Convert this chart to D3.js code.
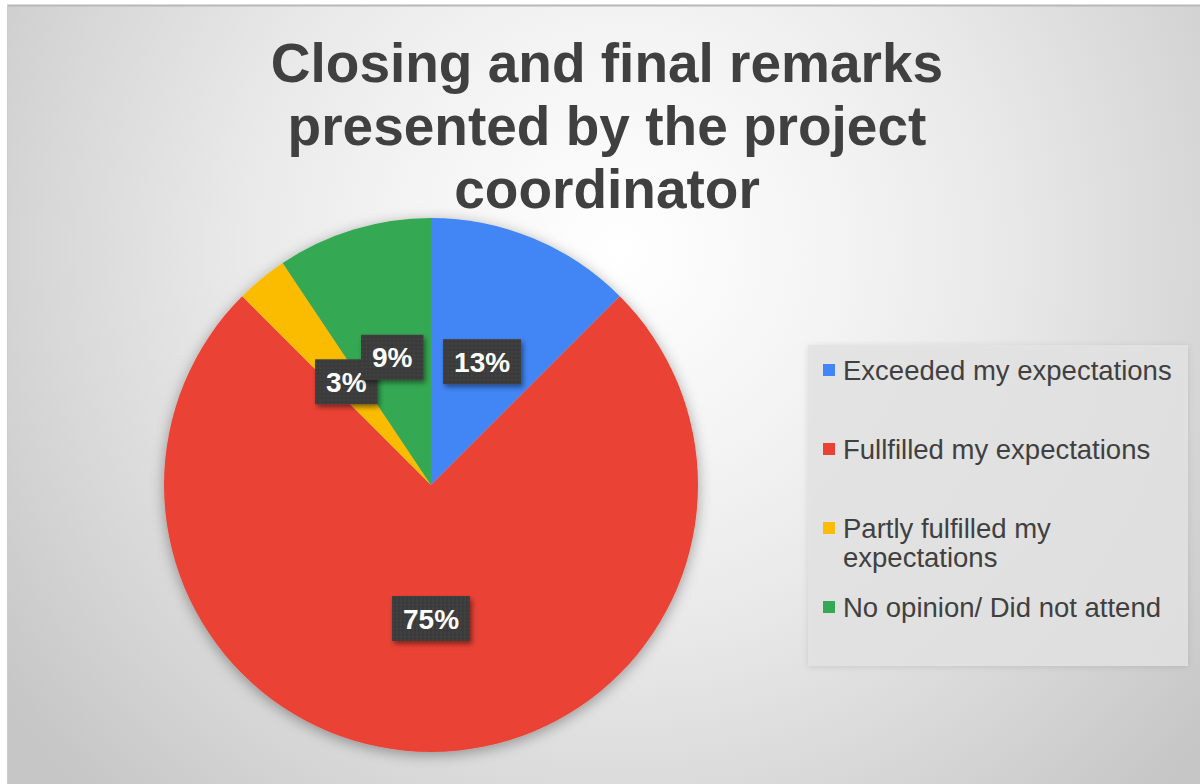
<!DOCTYPE html>
<html>
<head>
<meta charset="utf-8">
<script src="https://cdn.jsdelivr.net/npm/d3@7"></script>
<style>
  html, body { margin: 0; padding: 0; background: #ffffff; }
  svg { display: block; }
</style>
</head>
<body>
<svg id="chart" width="1200" height="784"></svg>
<script>
// ---- data ----
const titleLines = ["Closing and final remarks", "presented by the project", "coordinator"];
const categories = [
  "Exceeded my expectations",
  "Fullfilled my expectations",
  "Partly fulfilled my expectations",
  "No opinion/ Did not attend"
];
const values = [4, 24, 1, 3];
const colors = ["#4285F4", "#EA4335", "#FBBC04", "#34A853"];

// ---- setup ----
const W = 1200, H = 784;
const svg = d3.select("#chart");
const defs = svg.append("defs");

const bg = defs.append("radialGradient").attr("id", "bgGrad")
  .attr("gradientUnits", "userSpaceOnUse")
  .attr("cx", 620).attr("cy", 250).attr("r", 760);
[[0, "#ffffff"], [0.3, "#f3f3f3"], [0.5, "#e9e9e9"], [0.75, "#d8d8d8"], [1, "#c6c6c6"]]
  .forEach(([o, c]) => bg.append("stop").attr("offset", o).attr("stop-color", c));

const pieShadow = defs.append("filter").attr("id", "pieShadow")
  .attr("x", "-20%").attr("y", "-20%").attr("width", "140%").attr("height", "140%");
pieShadow.append("feDropShadow").attr("dx", 0).attr("dy", 3).attr("stdDeviation", 7)
  .attr("flood-color", "#000").attr("flood-opacity", 0.35);

const lblShadow = defs.append("filter").attr("id", "lblShadow")
  .attr("x", "-30%").attr("y", "-30%").attr("width", "160%").attr("height", "160%");
lblShadow.append("feDropShadow").attr("dx", 2).attr("dy", 3).attr("stdDeviation", 2.5)
  .attr("flood-color", "#000").attr("flood-opacity", 0.45);

const legShadow = defs.append("filter").attr("id", "legShadow")
  .attr("x", "-10%").attr("y", "-10%").attr("width", "120%").attr("height", "120%");
legShadow.append("feDropShadow").attr("dx", 0).attr("dy", 1).attr("stdDeviation", 3)
  .attr("flood-color", "#000").attr("flood-opacity", 0.12);

const pat = defs.append("pattern").attr("id", "dots")
  .attr("patternUnits", "userSpaceOnUse").attr("width", 4).attr("height", 4);
pat.append("rect").attr("width", 4).attr("height", 4).attr("fill", "#3b3b3b");
pat.append("circle").attr("cx", 2).attr("cy", 2).attr("r", 0.8).attr("fill", "#4c4c4c");

// background / chart area
svg.append("rect").attr("x", 7).attr("y", 5).attr("width", W - 7).attr("height", H - 5)
  .attr("fill", "url(#bgGrad)");
svg.append("line").attr("x1", 7).attr("x2", W).attr("y1", 5.5).attr("y2", 5.5)
  .attr("stroke", "#b8b8b8").attr("stroke-width", 2);
svg.append("line").attr("x1", 7.5).attr("x2", 7.5).attr("y1", 5).attr("y2", H)
  .attr("stroke", "#cfcfcf").attr("stroke-width", 1);

// title
svg.append("text")
  .attr("x", 607).attr("y", 82)
  .attr("text-anchor", "middle")
  .attr("font-family", "'Liberation Sans', Arial, sans-serif")
  .attr("font-weight", "bold").attr("font-size", 55)
  .attr("fill", "#404040")
  .selectAll("tspan").data(titleLines).join("tspan")
  .attr("x", 607).attr("dy", (d, i) => i === 0 ? 0 : 63)
  .text(d => d);

// pie
const cx = 431, cy = 485, R = 267;
const total = d3.sum(values);
const pie = d3.pie().sort(null).value(d => d.v);
const arcs = pie(values.map((v, i) => ({ v, i, name: categories[i] })));
const arc = d3.arc().innerRadius(0).outerRadius(R);
const labelArc = d3.arc().innerRadius(R * 0.5).outerRadius(R * 0.5);

const g = svg.append("g").attr("transform", `translate(${cx},${cy})`);
g.append("g").attr("filter", "url(#pieShadow)")
  .selectAll("path").data(arcs).join("path")
  .attr("d", arc)
  .attr("fill", d => colors[d.data.i]);

// data labels
const pctFmt = v => Math.round(v / total * 100) + "%";
const lbl = g.selectAll("g.lbl").data(arcs).join("g").attr("class", "lbl")
  .attr("transform", d => `translate(${labelArc.centroid(d)})`);
lbl.each(function (d) {
  const sel = d3.select(this);
  const t = sel.append("text")
    .attr("text-anchor", "middle").attr("dy", "0.36em")
    .attr("font-family", "'Liberation Sans', Arial, sans-serif")
    .attr("font-weight", "bold").attr("font-size", 28)
    .attr("fill", "#ffffff")
    .text(pctFmt(d.data.v));
  const w = t.node().getComputedTextLength();
  sel.insert("rect", "text")
    .attr("x", -w / 2 - 11).attr("y", -22.5)
    .attr("width", w + 22).attr("height", 45)
    .attr("fill", "url(#dots)")
    .attr("filter", "url(#lblShadow)");
});

// legend
const legX = 808, legY = 345, legW = 380, legH = 321;
svg.append("rect").attr("x", legX).attr("y", legY).attr("width", legW).attr("height", legH)
  .attr("fill", "#e3e3e3").attr("fill-opacity", 0.85).attr("filter", "url(#legShadow)");

const legFont = 27.5, maxTextW = 340;
const legItems = svg.append("g").selectAll("g").data(categories).join("g")
  .attr("transform", (d, i) => `translate(${legX + 15},${380 + i * 79})`);
legItems.append("rect")
  .attr("x", 0).attr("y", -16).attr("width", 12).attr("height", 12)
  .attr("fill", (d, i) => colors[i]);
legItems.append("text")
  .attr("x", 20).attr("y", 0)
  .attr("font-family", "'Liberation Sans', Arial, sans-serif")
  .attr("font-size", legFont).attr("fill", "#404040")
  .each(function (d) {
    const t = d3.select(this);
    const words = d.split(" ");
    let line = [], lineNo = 0;
    let ts = t.append("tspan").attr("x", 20).attr("dy", 0);
    words.forEach(wd => {
      line.push(wd);
      ts.text(line.join(" "));
      if (ts.node().getComputedTextLength() > maxTextW && line.length > 1) {
        line.pop();
        ts.text(line.join(" "));
        line = [wd];
        lineNo++;
        ts = t.append("tspan").attr("x", 20).attr("dy", 29).text(wd);
      }
    });
  });
</script>
</body>
</html>
